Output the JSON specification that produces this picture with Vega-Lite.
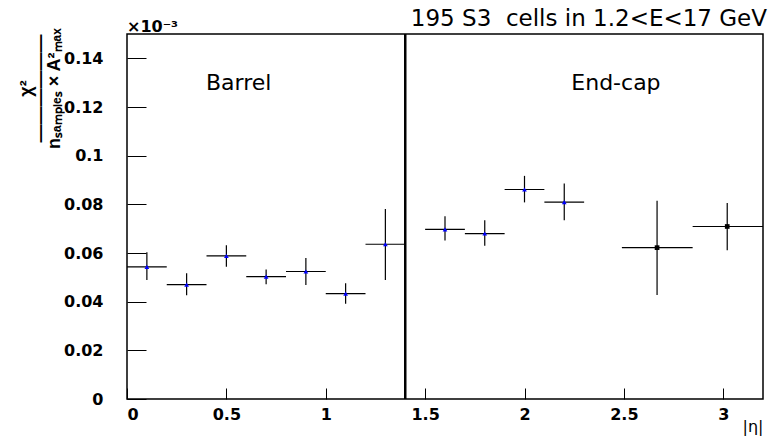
{
  "$schema": "https://vega.github.io/schema/vega-lite/v6.json",
  "autosize": "none",
  "width": 636,
  "height": 365,
  "padding": {"left": 127, "top": 34, "right": 7, "bottom": 42},
  "background": "white",
  "config": {
    "view": {"stroke": "black", "strokeWidth": 1.5},
    "font": "Liberation Sans"
  },
  "datasets": {
    "pts": [
      {"eta": 0.1, "eta_lo": 0.0, "eta_hi": 0.2, "chi": 0.0543, "chi_lo": 0.0489, "chi_hi": 0.0603, "region": "barrel"},
      {"eta": 0.3, "eta_lo": 0.2, "eta_hi": 0.4, "chi": 0.0470, "chi_lo": 0.0426, "chi_hi": 0.0517, "region": "barrel"},
      {"eta": 0.5, "eta_lo": 0.4, "eta_hi": 0.6, "chi": 0.0588, "chi_lo": 0.0544, "chi_hi": 0.0632, "region": "barrel"},
      {"eta": 0.7, "eta_lo": 0.6, "eta_hi": 0.8, "chi": 0.0503, "chi_lo": 0.0472, "chi_hi": 0.0532, "region": "barrel"},
      {"eta": 0.9, "eta_lo": 0.8, "eta_hi": 1.0, "chi": 0.0524, "chi_lo": 0.0468, "chi_hi": 0.0579, "region": "barrel"},
      {"eta": 1.1, "eta_lo": 1.0, "eta_hi": 1.2, "chi": 0.0433, "chi_lo": 0.0391, "chi_hi": 0.0476, "region": "barrel"},
      {"eta": 1.3, "eta_lo": 1.2, "eta_hi": 1.4, "chi": 0.0636, "chi_lo": 0.0489, "chi_hi": 0.0781, "region": "barrel"},
      {"eta": 1.6, "eta_lo": 1.5, "eta_hi": 1.7, "chi": 0.0697, "chi_lo": 0.0651, "chi_hi": 0.0751, "region": "endcap"},
      {"eta": 1.8, "eta_lo": 1.7, "eta_hi": 1.9, "chi": 0.0680, "chi_lo": 0.0630, "chi_hi": 0.0735, "region": "endcap"},
      {"eta": 2.0, "eta_lo": 1.9, "eta_hi": 2.1, "chi": 0.0861, "chi_lo": 0.0808, "chi_hi": 0.0917, "region": "endcap"},
      {"eta": 2.2, "eta_lo": 2.1, "eta_hi": 2.3, "chi": 0.0809, "chi_lo": 0.0735, "chi_hi": 0.0886, "region": "endcap"},
      {"eta": 2.667, "eta_lo": 2.49, "eta_hi": 2.846, "chi": 0.0622, "chi_lo": 0.0427, "chi_hi": 0.0815, "region": "endcap-outer"},
      {"eta": 3.02, "eta_lo": 2.846, "eta_hi": 3.22, "chi": 0.0709, "chi_lo": 0.0611, "chi_hi": 0.0805, "region": "endcap-outer"}
    ],
    "labels": [
      {"eta": 0.562, "chi": 0.1300, "label": "Barrel"},
      {"eta": 2.46, "chi": 0.1300, "label": "End-cap"}
    ],
    "divider": [{"eta": 1.4}],
    "scale": [{"eta": 0, "chi": 0.15, "label": "×10⁻³"}],
    "heading": [{"eta": 3.2, "chi": 0.15, "label": "195 S3\u00a0 cells in 1.2<E<17 GeV"}]
  },
  "encoding": {},
  "layer": [
    {
      "data": {"name": "pts"},
      "mark": {"type": "rule", "color": "black", "strokeWidth": 1.2, "clip": true},
      "encoding": {
        "x": {
          "field": "eta_lo", "type": "quantitative",
          "scale": {"domain": [0, 3.2], "nice": false, "zero": false},
          "axis": {
            "values": [0, 0.5, 1, 1.5, 2, 2.5, 3],
            "format": "~g",
            "domain": false,
            "grid": false,
            "tickSize": -11,
            "tickColor": "black",
            "tickWidth": 1,
            "labelPadding": 18,
            "labelFont": "DejaVu Sans",
            "labelFontWeight": "bold",
            "labelFontSize": 16,
            "labelColor": "black",
            "title": "|η|",
            "titleFont": "DejaVu Sans",
            "titleFontWeight": "normal",
            "titleFontSize": 16,
            "titleColor": "black",
            "titleAnchor": "end",
            "titleAlign": "right",
            "titleBaseline": "alphabetic",
            "titleY": 32
          }
        },
        "x2": {"field": "eta_hi"},
        "y": {
          "field": "chi", "type": "quantitative",
          "scale": {"domain": [0, 0.15], "nice": false},
          "axis": {
            "values": [0, 0.02, 0.04, 0.06, 0.08, 0.1, 0.12, 0.14],
            "format": "~g",
            "domain": false,
            "grid": false,
            "tickSize": -19,
            "tickColor": "black",
            "tickWidth": 1,
            "labelPadding": 43,
            "labelFont": "DejaVu Sans",
            "labelFontWeight": "bold",
            "labelFontSize": 16,
            "labelColor": "black",
            "title": ["χ²", "——————", "nₛₐₘₚₗₑₛ × A²ₘₐₓ"],
            "titleFont": "Liberation Sans",
            "titleFontWeight": "bold",
            "titleFontSize": 18,
            "titleColor": "black",
            "titleAngle": 270,
            "titleAlign": "center",
            "titleBaseline": "middle",
            "titleX": -101,
            "titleY": 54,
            "titleLineHeight": 14
          }
        }
      }
    },
    {
      "data": {"name": "pts"},
      "mark": {"type": "rule", "color": "black", "strokeWidth": 1.2},
      "encoding": {
        "x": {"field": "eta", "type": "quantitative"},
        "y": {"field": "chi_lo", "type": "quantitative"},
        "y2": {"field": "chi_hi"}
      }
    },
    {
      "data": {"name": "divider"},
      "mark": {"type": "rule", "color": "black", "strokeWidth": 2.5},
      "encoding": {
        "x": {"field": "eta", "type": "quantitative"}
      }
    },
    {
      "data": {"name": "pts"},
      "mark": {"type": "point", "filled": true, "opacity": 1},
      "encoding": {
        "x": {"field": "eta", "type": "quantitative"},
        "y": {"field": "chi", "type": "quantitative"},
        "shape": {
          "field": "region", "type": "nominal",
          "scale": {"domain": ["barrel", "endcap", "endcap-outer"], "range": ["triangle-up", "triangle-up", "square"]},
          "legend": null
        },
        "color": {
          "field": "region", "type": "nominal",
          "scale": {"domain": ["barrel", "endcap", "endcap-outer"], "range": ["#0000ff", "#0000ff", "#000000"]},
          "legend": null
        },
        "size": {
          "field": "region", "type": "nominal",
          "scale": {"domain": ["barrel", "endcap", "endcap-outer"], "range": [22, 22, 30]},
          "legend": null
        }
      }
    },
    {
      "data": {"name": "labels"},
      "mark": {"type": "text", "font": "DejaVu Sans", "fontSize": 22, "color": "black", "align": "center", "baseline": "middle"},
      "encoding": {
        "x": {"field": "eta", "type": "quantitative"},
        "y": {"field": "chi", "type": "quantitative"},
        "text": {"field": "label"}
      }
    },
    {
      "data": {"name": "scale"},
      "mark": {"type": "text", "font": "DejaVu Sans", "fontSize": 16, "fontWeight": "bold", "color": "black", "align": "left", "baseline": "bottom", "clip": false, "dy": 1},
      "encoding": {
        "x": {"field": "eta", "type": "quantitative"},
        "y": {"field": "chi", "type": "quantitative"},
        "text": {"field": "label"}
      }
    },
    {
      "data": {"name": "heading"},
      "mark": {"type": "text", "font": "DejaVu Sans", "fontSize": 23, "color": "black", "align": "right", "baseline": "alphabetic", "clip": false, "dy": -8, "dx": 4},
      "encoding": {
        "x": {"field": "eta", "type": "quantitative"},
        "y": {"field": "chi", "type": "quantitative"},
        "text": {"field": "label"}
      }
    }
  ]
}
